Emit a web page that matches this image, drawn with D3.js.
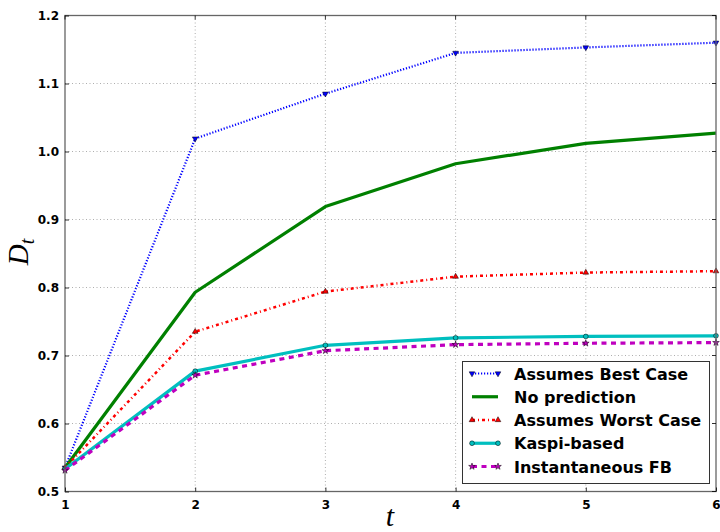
<!DOCTYPE html>
<html>
<head>
<meta charset="utf-8">
<script src="https://cdn.jsdelivr.net/npm/d3@7"></script>
<style>
  body { margin: 0; background: #fff; }
  svg { display: block; }
</style>
</head>
<body>
<svg id="chart" width="720" height="532"></svg>
<script>
const tValues = [1, 2, 3, 4, 5, 6];
const bestCase = [0.535, 1.019, 1.085, 1.145, 1.153, 1.160];
const noPrediction = [0.535, 0.793, 0.919, 0.982, 1.012, 1.027];
const worstCase = [0.535, 0.735, 0.794, 0.816, 0.822, 0.824];
const kaspiBased = [0.533, 0.677, 0.715, 0.726, 0.728, 0.729];
const instantFB = [0.531, 0.671, 0.707, 0.716, 0.718, 0.719];
const xTicks = [1, 2, 3, 4, 5, 6];
const yTicks = [0.5, 0.6, 0.7, 0.8, 0.9, 1.0, 1.1, 1.2];

const series = [
  { name: 'Assumes Best Case', values: bestCase, color: '#0000ff', width: 2.2, dash: '1.2,1.8', marker: 'down' },
  { name: 'No prediction', values: noPrediction, color: '#008000', width: 3.2, dash: null, marker: null },
  { name: 'Assumes Worst Case', values: worstCase, color: '#ff0000', width: 2.5, dash: '3,3,1,3', marker: 'up' },
  { name: 'Kaspi-based', values: kaspiBased, color: '#00bfbf', width: 3.2, dash: null, marker: 'circle' },
  { name: 'Instantaneous FB', values: instantFB, color: '#bf00bf', width: 3.2, dash: '5,4.5', marker: 'star' },
];

const plot = { left: 65, right: 716, top: 15.5, bottom: 491.5 };
const svg = d3.select('#chart');

const x = d3.scaleLinear().domain([1, 6]).range([plot.left, plot.right]);
const y = d3.scaleLinear().domain([0.5, 1.2]).range([plot.bottom, plot.top]);

// grid
const grid = svg.append('g');
grid.selectAll('.gx').data(xTicks.slice(1, -1)).join('line')
  .attr('x1', (d) => x(d)).attr('x2', (d) => x(d))
  .attr('y1', plot.top).attr('y2', plot.bottom)
  .attr('stroke', '#999').attr('stroke-width', 0.8).attr('stroke-dasharray', '1,2.5');
grid.selectAll('.gy').data(yTicks.slice(1, -1)).join('line')
  .attr('x1', plot.left).attr('x2', plot.right)
  .attr('y1', (d) => y(d)).attr('y2', (d) => y(d))
  .attr('stroke', '#999').attr('stroke-width', 0.8).attr('stroke-dasharray', '1,2.5');

const markerPath = (type) => {
  if (type === 'down' || type === 'up') return d3.symbol(d3.symbolTriangle, 14)();
  if (type === 'circle') return d3.symbol(d3.symbolCircle, 18)();
  if (type === 'star') return d3.symbol(d3.symbolStar, 14)();
  return null;
};

const line = d3.line().x((d, i) => x(tValues[i])).y((d) => y(d));
const lines = svg.append('g');
series.forEach((s) => {
  lines.append('path')
    .datum(s.values)
    .attr('d', line)
    .attr('fill', 'none')
    .attr('stroke', s.color)
    .attr('stroke-width', s.width)
    .attr('stroke-dasharray', s.dash)
    .attr('stroke-linejoin', 'round');
  if (s.marker) {
    lines.selectAll(null).data(s.values).join('path')
      .attr('d', markerPath(s.marker))
      .attr('transform', (d, i) => `translate(${x(tValues[i])},${y(d)})` + (s.marker === 'down' ? ' rotate(180)' : ''))
      .attr('fill', s.color)
      .attr('stroke', '#000')
      .attr('stroke-width', 0.5);
  }
});

// frame
svg.append('rect')
  .attr('x', plot.left).attr('y', plot.top)
  .attr('width', plot.right - plot.left).attr('height', plot.bottom - plot.top)
  .attr('fill', 'none').attr('stroke', '#666').attr('stroke-width', 1.3);

// axes
const xAxis = svg.append('g')
  .attr('transform', `translate(0,${plot.bottom})`)
  .call(d3.axisBottom(x).tickValues(xTicks).tickFormat(d3.format('d')).tickSizeInner(-4).tickSizeOuter(0).tickPadding(9));
const yAxis = svg.append('g')
  .attr('transform', `translate(${plot.left},0)`)
  .call(d3.axisLeft(y).tickValues(yTicks).tickFormat(d3.format('.1f')).tickSizeInner(-4).tickSizeOuter(0).tickPadding(6));
[xAxis, yAxis].forEach((a) => {
  a.select('.domain').remove();
  a.selectAll('.tick line').attr('stroke', '#000').attr('stroke-width', 0.8);
  a.selectAll('.tick text')
    .attr('font-family', 'DejaVu Sans')
    .attr('font-weight', 'bold')
    .attr('font-size', 12)
    .attr('fill', '#000');
});
// mirrored ticks on top and right
svg.append('g').selectAll('line').data(xTicks).join('line')
  .attr('x1', (d) => x(d)).attr('x2', (d) => x(d))
  .attr('y1', plot.top).attr('y2', plot.top + 4)
  .attr('stroke', '#000').attr('stroke-width', 0.8);
svg.append('g').selectAll('line').data(yTicks).join('line')
  .attr('x1', plot.right).attr('x2', plot.right - 4)
  .attr('y1', (d) => y(d)).attr('y2', (d) => y(d))
  .attr('stroke', '#000').attr('stroke-width', 0.8);

// axis labels
svg.append('text')
  .attr('x', 390).attr('y', 526)
  .attr('text-anchor', 'middle')
  .attr('font-family', 'Liberation Serif')
  .attr('font-style', 'italic')
  .attr('font-size', 30)
  .text('t');
const yLabel = svg.append('text')
  .attr('transform', 'translate(28,252) rotate(-90)')
  .attr('text-anchor', 'middle')
  .attr('font-family', 'Liberation Serif')
  .attr('font-style', 'italic')
  .attr('font-size', 29);
yLabel.append('tspan').text('D');
yLabel.append('tspan').attr('font-size', 20).attr('dy', 6).text('t');

// legend
const legend = svg.append('g');
legend.append('rect')
  .attr('x', 462.5).attr('y', 361.5).attr('width', 247).attr('height', 122)
  .attr('fill', '#fff').attr('stroke', '#333').attr('stroke-width', 1);
const legendRow = d3.scaleLinear().domain([0, 4]).range([373.5, 466.5]);
series.forEach((s, i) => {
  const ly = legendRow(i);
  legend.append('line')
    .attr('x1', 472).attr('x2', 498).attr('y1', ly).attr('y2', ly)
    .attr('stroke', s.color).attr('stroke-width', s.width)
    .attr('stroke-dasharray', s.dash);
  if (s.marker) {
    [472, 498].forEach((mx) => {
      legend.append('path')
        .attr('d', markerPath(s.marker))
        .attr('transform', `translate(${mx},${ly})` + (s.marker === 'down' ? ' rotate(180)' : ''))
        .attr('fill', s.color).attr('stroke', '#000').attr('stroke-width', 0.5);
    });
  }
  legend.append('text')
    .attr('x', 514).attr('y', ly + 6)
    .attr('font-family', 'DejaVu Sans')
    .attr('font-weight', 'bold')
    .attr('font-size', 16)
    .text(s.name);
});
</script>
</body>
</html>
